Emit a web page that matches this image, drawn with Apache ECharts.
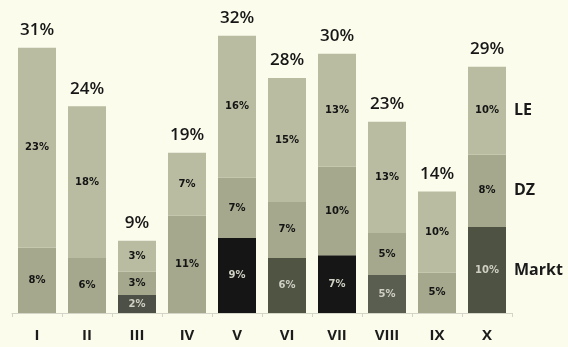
<!DOCTYPE html>
<html>
<head>
<meta charset="utf-8">
<script src="https://cdn.jsdelivr.net/npm/echarts@6/dist/echarts.min.js"></script>
<style>
  html, body { margin: 0; padding: 0; background: #fbfcec; }
  #chart { width: 568px; height: 347px; }
</style>
</head>
<body>
<div id="chart"></div>
<script>
const categories = ['I', 'II', 'III', 'IV', 'V', 'VI', 'VII', 'VIII', 'IX', 'X']

// segment heights (percentage points)
const markt = [0, 0, 2.1, 0, 8.7, 6.4, 6.7, 4.4, 0, 10.0]
const dz = [7.6, 6.4, 2.7, 11.3, 7.0, 6.5, 10.3, 4.9, 4.7, 8.4]
const le = [23.2, 17.6, 3.6, 7.3, 16.5, 14.4, 13.1, 12.9, 9.4, 10.2]

// printed labels
const marktLabels = ['', '', '2%', '', '9%', '6%', '7%', '5%', '', '10%']
const dzLabels = ['8%', '6%', '3%', '11%', '7%', '7%', '10%', '5%', '5%', '8%']
const leLabels = ['23%', '18%', '3%', '7%', '16%', '15%', '13%', '13%', '10%', '10%']
const totalLabels = ['31%', '24%', '9%', '19%', '32%', '28%', '30%', '23%', '14%', '29%']
const seriesNames = ['Markt', 'DZ', 'LE']

// shades of the scanned bars
const marktShade = ['#55584c', '#55584c', '#4d5047', '#55584c', '#151515', '#4f5443', '#161616', '#5a5e51', '#55584c', '#4e5242']
const dzShade = '#a5a88d'
const leShade = '#b9bca0'

const font = 'Open Sans'
const segLabel = (labels, color) => ({
  show: true,
  position: 'inside',
  fontFamily: 'DejaVu Sans',
  fontWeight: 'bold',
  fontSize: 10,
  color,
  formatter: (p) => labels[p.dataIndex],
})

const lastOnly = (arr) => arr.map((v, i) => (i === arr.length - 1 ? v : '-'))

const chart = echarts.init(document.getElementById('chart'), null, { renderer: 'canvas' })

chart.setOption({
  animation: false,
  backgroundColor: '#fbfcec',
  grid: { left: 12, right: 56, top: 3, bottom: 34 },
  xAxis: {
    type: 'category',
    data: categories,
    axisLine: { lineStyle: { color: '#d3d5c6', width: 1 } },
    axisTick: { show: true, length: 4, lineStyle: { color: '#d3d5c6' } },
    axisLabel: {
      margin: 15,
      fontFamily: font,
      fontWeight: 'bold',
      fontSize: 15,
      color: '#1c1c1c',
    },
  },
  yAxis: { type: 'value', min: 0, max: 36, show: false },
  series: [
    {
      name: 'Markt',
      type: 'bar',
      stack: 'a',
      barWidth: 38,
      barGap: '-100%',
      data: markt.map((v, i) => ({ value: v, itemStyle: { color: marktShade[i] } })),
      label: segLabel(marktLabels, '#cfd0c3'),
    },
    {
      name: 'DZ',
      type: 'bar',
      stack: 'a',
      barWidth: 38,
      data: dz,
      itemStyle: { color: dzShade },
      label: segLabel(dzLabels, '#141414'),
    },
    {
      name: 'LE',
      type: 'bar',
      stack: 'a',
      barWidth: 38,
      data: le,
      itemStyle: { color: leShade },
      label: segLabel(leLabels, '#141414'),
    },
    {
      name: 'total',
      type: 'bar',
      stack: 'a',
      barWidth: 38,
      data: categories.map(() => 0),
      itemStyle: { color: 'transparent' },
      label: {
        show: true,
        position: 'top',
        distance: 9,
        fontFamily: font,
        fontWeight: 600,
        fontSize: 17,
        color: '#161616',
        formatter: (p) => totalLabels[p.dataIndex],
      },
    },
    // series names written next to the last bar
    ...[markt, dz, le].map((arr, k) => ({
      name: seriesNames[k] + ' tag',
      type: 'bar',
      stack: 'b',
      barWidth: 38,
      data: lastOnly(arr),
      itemStyle: { color: 'transparent' },
      label: {
        show: true,
        position: 'right',
        distance: 8,
        fontFamily: font,
        fontWeight: 'bold',
        fontSize: 16,
        color: '#1a1a1a',
        formatter: () => seriesNames[k],
      },
    })),
  ],
})
</script>
</body>
</html>
